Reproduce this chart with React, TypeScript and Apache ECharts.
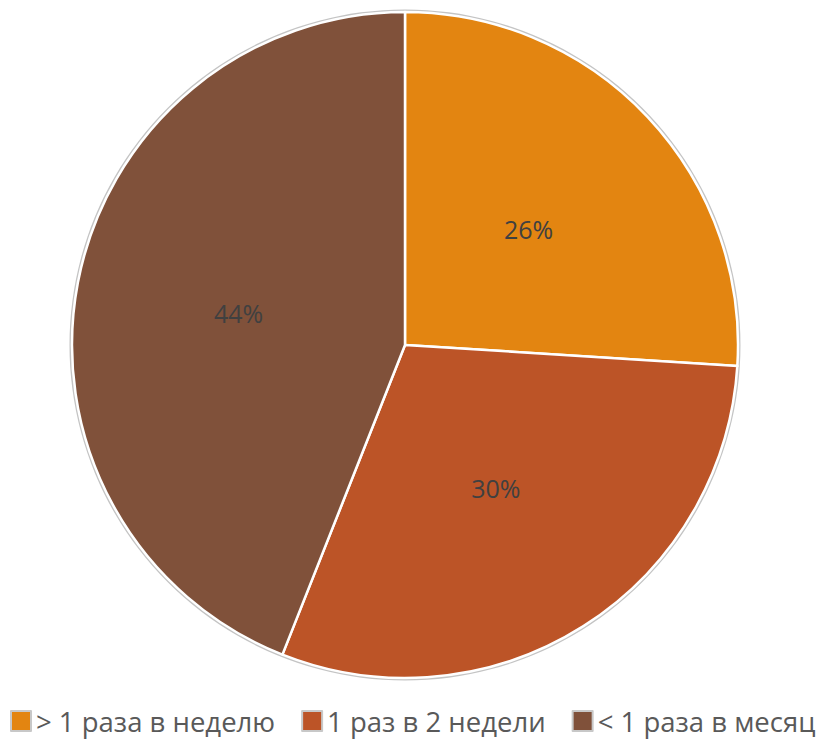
import React, { useEffect, useRef } from "react";
import * as echarts from "echarts";

const categories = ["> 1 раза в неделю", "1 раз в 2 недели", "< 1 раза в месяц"];
const values = [26, 30, 44];
const colors = ["#E38511", "#BC5427", "#80513A"];

export default function App() {
  const ref = useRef<HTMLDivElement>(null);
  useEffect(() => {
    document.body.style.margin = "0";
    const chart = echarts.init(ref.current!, null, { renderer: "svg" });
    chart.setOption({
      animation: false,
      backgroundColor: "#ffffff",
      legend: {
        top: 707,
        left: 10,
        width: 823,
        padding: 0,
        itemWidth: 20,
        itemHeight: 20,
        itemGap: 26,
        icon: "rect",
        data: categories,
        textStyle: {
          fontFamily: "Open Sans",
          fontSize: 27.5,
          color: "#595959",
        },
        itemStyle: { borderColor: "#C8C8C8", borderWidth: 2 },
      },
      series: [
        {
          type: "pie",
          center: [405, 345],
          radius: 335.5,
          silent: true,
          z: 1,
          data: [{ name: "outline", value: 1, itemStyle: { color: "#C4C4C4" } }],
          label: { show: false },
          labelLine: { show: false },
          emphasis: { disabled: true },
          tooltip: { show: false },
        },
        {
          type: "pie",
          center: [405, 345],
          radius: 333,
          startAngle: 90,
          clockwise: true,
          z: 2,
          data: categories.map((name, i) => ({
            name,
            value: values[i],
            itemStyle: { color: colors[i] },
          })),
          itemStyle: { borderColor: "#ffffff", borderWidth: 2.5 },
          label: {
            position: "inside",
            formatter: "{c}%",
            fontFamily: "Open Sans",
            fontSize: 25,
            color: "#404040",
          },
          labelLine: { show: false },
          emphasis: { disabled: true },
        },
      ],
    });
    return () => chart.dispose();
  }, []);
  return <div ref={ref} style={{ width: 833, height: 739 }} />;
}
